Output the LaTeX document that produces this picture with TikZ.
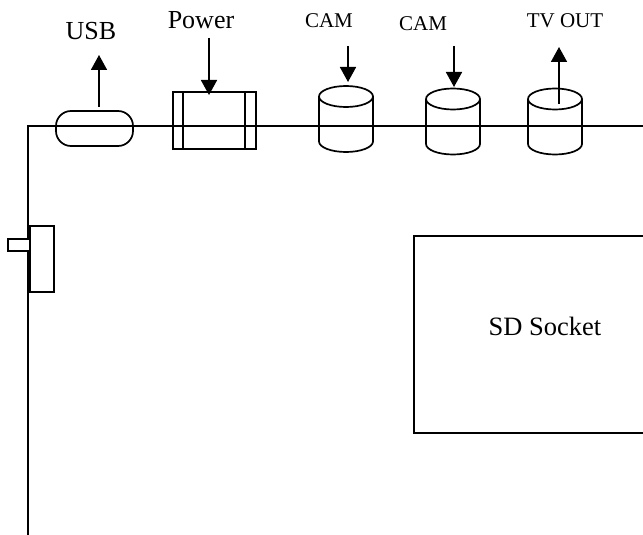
\documentclass[tikz,border=0pt]{standalone}
\usepackage{fontspec}
\setmainfont{Liberation Serif}
\usetikzlibrary{arrows.meta}
\tikzset{
  ln/.style={line width=1.7pt,black},
  tip/.style={ln,-{Triangle[length=15pt,width=16pt]},shorten >=0pt},
  lbl/.style={inner sep=0pt,anchor=center,text=black},
  big/.style={lbl,font=\fontsize{26}{26}\selectfont},
  small/.style={lbl,font=\fontsize{21}{21}\selectfont},
}
\newcommand{\cyl}[2]{% left x, top-ellipse centre y
  \draw[ln] (#1,#2) arc[start angle=180,end angle=0,x radius=27,y radius=10.5]
     arc[start angle=0,end angle=-180,x radius=27,y radius=10.5] -- ++(0,45)
     arc[start angle=180,end angle=0,x radius=27,y radius=10.5] -- (#1+54,#2);
}
\begin{document}
\begin{tikzpicture}[x=1pt,y=-1pt]
\useasboundingbox (0,0) rectangle (643,535);
% main board edge
\coordinate (bl) at (28,535);
\coordinate (tl) at (28,126);
\coordinate (tr) at (643,126);
\draw[ln] (bl) -- (tl) -- (tr);
% USB
\draw[ln,rounded corners=15pt] (56,111) rectangle (133,146);
% Power
\draw[ln] (173,92) rectangle (256,149);
\draw[ln] (183,92) -- (183,149);
\draw[ln] (245,92) -- (245,149);
% cylinders
\cyl{319}{96.5}
\cyl{426}{99}
\cyl{528}{99}
% side switch
\draw[ln,fill=white] (8,239) rectangle (30,251);
\draw[ln,fill=white] (30,226) rectangle (54,292);
% SD
\draw[ln] (643,236) -- (414,236) -- (414,433) -- (643,433);
% labels
\node[big] (usb) at (91,31) {USB};
\node[big] (power) at (201,20) {Power};
\node[small] (cam1) at (329,21) {CAM};
\node[small] (cam2) at (423,24) {CAM};
\node[small] (tv) at (565,21) {TV OUT};
\node[lbl,font=\fontsize{26.5}{26.5}\selectfont] (sd) at (545,326) {SD Socket};
% arrows
\coordinate (a1) at (99,106.5); \coordinate (a1e) at (99,55);
\coordinate (a2) at (209,38); \coordinate (a2e) at (209,95);
\coordinate (a3) at (348,46); \coordinate (a3e) at (348,82);
\coordinate (a4) at (454,46); \coordinate (a4e) at (454,87);
\coordinate (a5) at (559,104); \coordinate (a5e) at (559,47);
\draw[tip] (a1) -- (a1e);
\draw[tip] (a2) -- (a2e);
\draw[tip] (a3) -- (a3e);
\draw[tip] (a4) -- (a4e);
\draw[tip] (a5) -- (a5e);
\end{tikzpicture}
\end{document}
